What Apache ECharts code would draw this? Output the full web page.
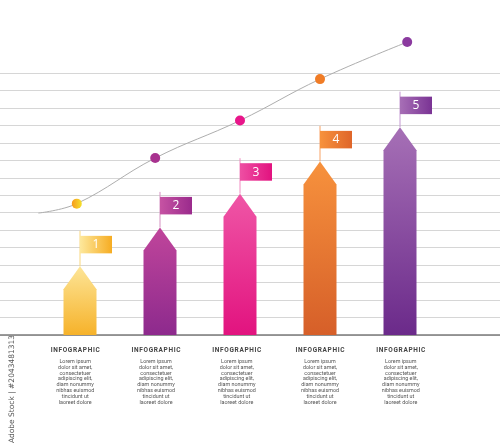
<!DOCTYPE html>
<html>
<head>
<meta charset="utf-8">
<script src="https://cdn.jsdelivr.net/npm/echarts@6/dist/echarts.min.js"></script>
<style>
  html, body { margin: 0; padding: 0; background: #fff; }
  #chart { width: 500px; height: 447px; }
</style>
</head>
<body>
<div id="chart"></div>
<script>
// step numbers on the flags
const categories = ['1', '2', '3', '4', '5']
// height of each arrow tip, in grid-line units
const barTips = [3.93, 6.16, 8.09, 9.94, 11.9]
// trend curve points (x in category units, y in grid-line units)
const trendX = [-0.52, -0.04, 0.94, 2, 3, 4.09]
const trendY = [6.98, 7.52, 10.13, 12.28, 14.65, 16.77]
// caption columns under the bars
const captionX = [-0.06, 0.95, 1.96, 3.0, 4.01]
const headings = ['INFOGRAPHIC', 'INFOGRAPHIC', 'INFOGRAPHIC', 'INFOGRAPHIC', 'INFOGRAPHIC']
const bodyLines = ['Lorem ipsum', 'dolor sit amet,', 'consectetuer', 'adipiscing elit,', 'diam nonummy', 'nibhas euismod', 'tincidunt ut', 'laoreet dolore']

const barColors = [
  { top: '#fde597', bottom: '#f6b22a', pole: '#f9d77e', flagL: '#fde89c', flagR: '#f6ac22' },
  { top: '#c0459b', bottom: '#8d2a8d', pole: '#d592c2', flagL: '#c653a3', flagR: '#9a2a8c' },
  { top: '#ef56a6', bottom: '#e2137f', pole: '#f08cc2', flagL: '#ee4fa3', flagR: '#e2127f' },
  { top: '#f7923d', bottom: '#d65f29', pole: '#f8a366', flagL: '#f7923c', flagR: '#df6529' },
  { top: '#a670b6', bottom: '#6b2a8a', pole: '#c49ad2', flagL: '#a76fb6', flagR: '#7a3394' }
]
const dotColors = [
  new echarts.graphic.LinearGradient(0, 0, 1, 0, [{ offset: 0, color: '#f79a1e' }, { offset: 1, color: '#f4e12c' }]),
  '#a8328f', '#e8168a', '#f07c26', '#8b3a9f'
]

const chart = echarts.init(document.getElementById('chart'))

const option = {
  backgroundColor: '#fff',
  animation: false,
  grid: { left: 0, right: 0, top: 73, bottom: 112 },
  xAxis: {
    type: 'value',
    min: -1,
    max: 5.25,
    axisLine: { show: true, lineStyle: { color: '#7a7a7a', width: 1.5 }},
    axisTick: { show: false },
    axisLabel: { show: false },
    splitLine: { show: false }
  },
  yAxis: {
    type: 'value',
    min: 0,
    max: 15,
    interval: 1,
    axisLine: { show: false },
    axisTick: { show: false },
    axisLabel: { show: false },
    splitLine: { lineStyle: { color: '#d6d6d6', width: 1.2 }}
  },
  graphic: [
    {
      // stock id printed along the left edge
      type: 'text',
      x: 12,
      y: 389,
      rotation: Math.PI / 2,
      style: {
        text: 'Adobe Stock | #2043481313',
        fill: '#555',
        font: '7.5px "DejaVu Sans"',
        align: 'center',
        verticalAlign: 'middle'
      }
    }
  ],
  series: [
    {
      // grey trend curve with coloured dots
      type: 'line',
      clip: false,
      smooth: 0.4,
      z: 3,
      lineStyle: { color: '#aeaeae', width: 1 },
      symbol: 'circle',
      data: trendX.map((x, i) => ({
        value: [x, trendY[i]],
        symbolSize: i === 0 ? 0 : 10,
        itemStyle: { color: i === 0 ? '#aeaeae' : dotColors[i - 1] }
      }))
    },
    {
      // arrow-shaped bars with numbered flags
      type: 'custom',
      clip: false,
      z: 4,
      data: barTips.map((v, i) => [i, v]),
      renderItem(params, api) {
        const i = params.dataIndex
        const c = barColors[i]
        const tip = api.coord([api.value(0), api.value(1)])
        const base = api.coord([api.value(0), 0])
        const cx = tip[0]
        const hw = 16.5
        const shoulder = tip[1] + 23
        const poleTop = tip[1] - 35.5
        return {
          type: 'group',
          children: [
            {
              type: 'line',
              shape: { x1: cx, y1: tip[1], x2: cx, y2: poleTop },
              style: { stroke: c.pole, lineWidth: 1 }
            },
            {
              type: 'polygon',
              shape: {
                points: [
                  [cx - hw, base[1]], [cx - hw, shoulder], [cx, tip[1]],
                  [cx + hw, shoulder], [cx + hw, base[1]]
                ]
              },
              style: {
                fill: new echarts.graphic.LinearGradient(0, 0, 0, 1, [
                  { offset: 0, color: c.top },
                  { offset: 1, color: c.bottom }
                ])
              }
            },
            {
              type: 'rect',
              shape: { x: cx, y: poleTop + 5, width: 32, height: 17.5 },
              style: {
                fill: new echarts.graphic.LinearGradient(0, 0, 1, 0, [
                  { offset: 0, color: c.flagL },
                  { offset: 1, color: c.flagR }
                ])
              }
            },
            {
              type: 'text',
              x: cx + 16,
              y: poleTop + 14,
              style: {
                text: categories[i],
                fill: '#fff',
                font: '12px "Open Sans"',
                align: 'center',
                verticalAlign: 'middle'
              }
            }
          ]
        }
      }
    },
    {
      // captions under the baseline
      type: 'custom',
      clip: false,
      z: 4,
      data: captionX.map(x => [x, 0]),
      renderItem(params, api) {
        const p = api.coord([api.value(0), 0])
        return {
          type: 'group',
          children: [
            {
              type: 'text',
              x: p[0],
              y: p[1] + 15.5,
              style: {
                text: headings[params.dataIndex].split('').join('\u200A'),
                fill: '#444',
                font: 'bold 6.5px Roboto',
                align: 'center',
                verticalAlign: 'middle'
              }
            },
            {
              type: 'text',
              x: p[0],
              y: p[1] + 23.5,
              style: {
                text: bodyLines.join('\n'),
                fill: '#555',
                font: '5.4px Roboto',
                lineHeight: 5.9,
                align: 'center',
                verticalAlign: 'top'
              }
            }
          ]
        }
      }
    }
  ]
}

chart.setOption(option)
window.addEventListener('resize', () => {
  chart.resize()
})
</script>
</body>
</html>
